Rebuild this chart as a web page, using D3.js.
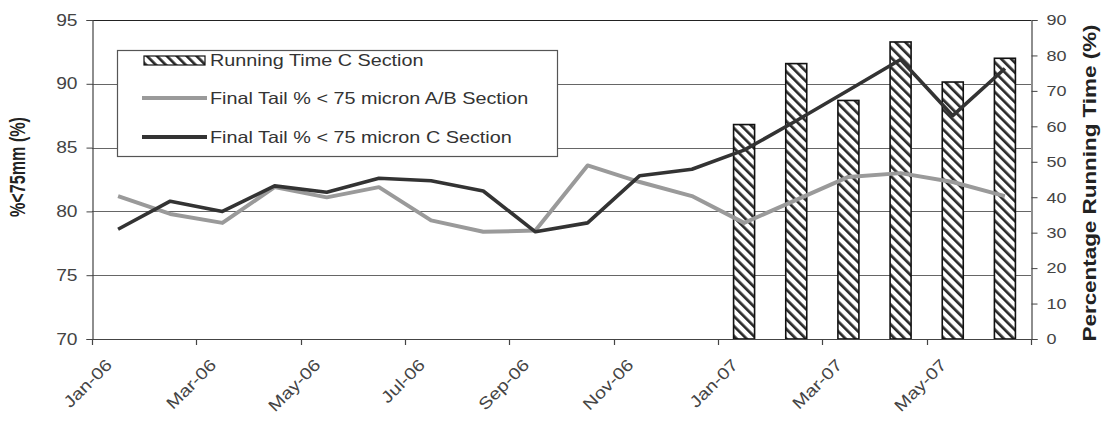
<!DOCTYPE html>
<html><head><meta charset="utf-8">
<script src="https://cdn.jsdelivr.net/npm/d3@7"></script>
<style>body{margin:0;background:#fff}svg{display:block}</style>
</head><body><svg id="c" width="1104" height="422"></svg>
<script>
const months = ["Jan-06","Feb-06","Mar-06","Apr-06","May-06","Jun-06","Jul-06","Aug-06","Sep-06","Oct-06","Nov-06","Dec-06","Jan-07","Feb-07","Mar-07","Apr-07","May-07","Jun-07"];
const tailAB = [81.2,79.8,79.1,81.9,81.1,81.9,79.3,78.4,78.5,83.6,82.3,81.2,79.1,80.9,82.7,83.0,82.3,81.2];
const tailC  = [78.6,80.8,80.0,82.0,81.5,82.6,82.4,81.6,78.4,79.1,82.8,83.3,84.8,87.1,89.5,91.9,87.5,91.2];
const runMonths = ["Jan-07","Feb-07","Mar-07","Apr-07","May-07","Jun-07"];
const runTime = [60.5,77.7,67.3,83.8,72.5,79.2];
const leftTicks = [70,75,80,85,90,95];
const rightTicks = [0,10,20,30,40,50,60,70,80,90];
const xTickLabels = ["Jan-06","Mar-06","May-06","Jul-06","Sep-06","Nov-06","Jan-07","Mar-07","May-07"];
const legendLabels = ["Running Time C Section","Final Tail % < 75 micron A/B Section","Final Tail % < 75 micron C Section"];

const svg = d3.select("#c");
const L=92, R=1031, T=20, B=339;
const FONT = "'Liberation Sans', Arial, sans-serif";
const SX = 1.2;
function stretch(sel, f){ sel.each(function(){ const l=this.getComputedTextLength(); d3.select(this).attr("textLength", l*f).attr("lengthAdjust","spacingAndGlyphs"); }); }

const x = d3.scaleBand().domain(months).range([L,R]).padding(0);
const yL = d3.scaleLinear().domain([70,95]).range([B,T]);
const yR = d3.scaleLinear().domain([0,90]).range([B,T]);

const defs = svg.append("defs");
const pat = defs.append("pattern").attr("id","hatch").attr("patternUnits","userSpaceOnUse")
  .attr("width",7).attr("height",7).attr("patternTransform","rotate(-45)");
pat.append("rect").attr("width",7).attr("height",7).attr("fill","#fff");
pat.append("rect").attr("width",2.7).attr("height",7).attr("fill","#2a2a2a");

// gridlines
svg.append("g").selectAll("line").data(leftTicks).join("line")
  .attr("x1",L).attr("x2",R).attr("y1",d=>Math.round(yL(d))+0.5).attr("y2",d=>Math.round(yL(d))+0.5)
  .attr("stroke",d=>d===95?"#222":"#666").attr("stroke-width",1.2);

// bars
svg.append("g").selectAll("rect").data(runMonths.map((m,i)=>({m,v:runTime[i]}))).join("rect")
  .attr("x",d=>x(d.m)+x.bandwidth()/2-10.5).attr("width",21)
  .attr("y",d=>yR(d.v)).attr("height",d=>B-yR(d.v))
  .attr("fill","url(#hatch)").attr("stroke","#111").attr("stroke-width",1.6);

// lines
const lineAB = d3.line().x((d,i)=>x(months[i])+x.bandwidth()/2).y(d=>yL(d));
svg.append("path").datum(tailAB).attr("d",lineAB).attr("fill","none").attr("stroke","#9a9a9a").attr("stroke-width",4).attr("stroke-linejoin","round");
svg.append("path").datum(tailC).attr("d",lineAB).attr("fill","none").attr("stroke","#333").attr("stroke-width",3.6).attr("stroke-linejoin","round");

// left axis
const gL = svg.append("g").attr("transform",`translate(${L+0.5},0)`)
  .call(d3.axisLeft(yL).tickValues(leftTicks).tickSize(6).tickPadding(9));
gL.select(".domain").attr("stroke","#444").attr("stroke-width",1.2);
gL.selectAll(".tick line").attr("stroke","#444");
gL.selectAll("text").attr("font-family",FONT).attr("font-size",16).attr("fill","#444").call(stretch,SX);

// right axis
const gR = svg.append("g").attr("transform",`translate(${R+0.5},0)`)
  .call(d3.axisRight(yR).tickValues(rightTicks).tickSize(6).tickPadding(9));
gR.select(".domain").attr("stroke","#444").attr("stroke-width",1.2);
gR.selectAll(".tick line").attr("stroke","#444");
gR.selectAll("text").attr("font-family",FONT).attr("font-size",15).attr("fill","#444").call(stretch,SX);

// bottom axis
svg.append("line").attr("x1",L).attr("x2",R+1).attr("y1",B+0.5).attr("y2",B+0.5).attr("stroke","#444").attr("stroke-width",1.2);
const tickPos = xTickLabels.map(m=>x(m)).concat([x.range()[1]]);
svg.append("g").selectAll("line").data(tickPos).join("line")
  .attr("x1",d=>Math.round(d)+0.5).attr("x2",d=>Math.round(d)+0.5).attr("y1",B).attr("y2",B+6)
  .attr("stroke","#444").attr("stroke-width",1.2);
svg.append("g").selectAll("text").data(xTickLabels).join("text")
  .attr("transform",d=>`translate(${x(d)+21},366) rotate(-45)`)
  .attr("text-anchor","end").attr("font-family",FONT).attr("font-size",16.5).attr("fill","#444")
  .text(d=>d).call(stretch,SX);

// axis titles
svg.append("text").attr("transform","translate(25,167) scale(1.25,1) rotate(-90)")
  .attr("text-anchor","middle").attr("font-family",FONT).attr("font-weight","bold").attr("font-size",17).attr("fill","#222")
  .attr("textLength",100).attr("lengthAdjust","spacingAndGlyphs").text("%<75mm (%)");
svg.append("text").attr("transform","translate(1096,183) scale(1.2,1) rotate(-90)")
  .attr("text-anchor","middle").attr("font-family",FONT).attr("font-weight","bold").attr("font-size",16).attr("fill","#222")
  .attr("textLength",317).attr("lengthAdjust","spacingAndGlyphs").text("Percentage Running Time (%)");

// legend
const lg = svg.append("g");
lg.append("rect").attr("x",117.5).attr("y",50.5).attr("width",440).attr("height",106).attr("fill","#fff").attr("stroke","#555").attr("stroke-width",1.2);
const rowsY = [60,98,137];
lg.append("rect").attr("x",144).attr("y",rowsY[0]-4).attr("width",61).attr("height",9).attr("fill","url(#hatch)").attr("stroke","#111").attr("stroke-width",1.2);
lg.append("line").attr("x1",142).attr("x2",207).attr("y1",rowsY[1]).attr("y2",rowsY[1]).attr("stroke","#9a9a9a").attr("stroke-width",4);
lg.append("line").attr("x1",142).attr("x2",207).attr("y1",rowsY[2]).attr("y2",rowsY[2]).attr("stroke","#333").attr("stroke-width",4);
lg.selectAll("text").data(legendLabels).join("text")
  .attr("x",210).attr("y",(d,i)=>rowsY[i]).attr("dy","0.36em")
  .attr("font-family",FONT).attr("font-size",16.5).attr("fill","#333").text(d=>d).call(stretch,1.2);
</script></body></html>
